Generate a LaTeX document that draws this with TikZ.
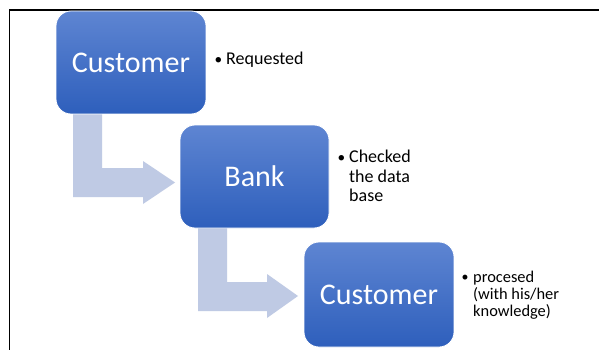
\documentclass[tikz,border=0pt]{standalone}
\usepackage{fontspec}
\setmainfont{Carlito}
\usetikzlibrary{calc}
\definecolor{boxtop}{HTML}{5E85D2}
\definecolor{boxbot}{HTML}{2E5FBC}
\definecolor{arrowfill}{HTML}{BFCAE4}
\tikzset{
  stepbox/.style={rounded corners=15pt, top color=boxtop, bottom color=boxbot,
    draw=white, line width=0.8pt, text=white, inner sep=0pt,
    font=\fontsize{30}{35}\selectfont},
  note/.style={anchor=base west, inner sep=0pt, text=black},
  bend/.style={fill=arrowfill, draw=none}
}
\newcommand{\bul}{\makebox[11.5pt][l]{\raisebox{0.5pt}{\scalebox{0.85}{•}}}}
\begin{document}
\begin{tikzpicture}[x=1pt,y=-1pt]
\useasboundingbox (0,0) rectangle (599,350);
\fill[white] (0,0) rectangle (599,350);
% frame
\draw[line width=1.5pt] (9.6,351) -- (9.6,10) -- (600,10);
% coordinates for the bent arrows
\coordinate (a1) at (73,114);
\coordinate (a2) at (198,228);
% bent arrows
\fill[arrowfill] (a1) -- ++(29,0) -- ++(0,54) -- ++(41,0) -- ++(0,-7) -- ++(32,21.5)
  -- ++(-32,21.5) -- ++(0,-7) -- ++(-70,0) -- cycle;
\fill[arrowfill] (a2) -- ++(29,0) -- ++(0,54) -- ++(40,0) -- ++(0,-8) -- ++(31,22)
  -- ++(-31,22) -- ++(0,-7) -- ++(-69,0) -- cycle;
% boxes
\node[stepbox, minimum width=150pt, minimum height=103pt] (c1) at (131,62.5) {Customer};
\node[stepbox, minimum width=149pt, minimum height=103pt] (b2) at (254.5,176.5) {Bank};
\node[stepbox, minimum width=150pt, minimum height=105pt] (c3) at (379,294.5) {Customer};
% notes
\node[note, font=\fontsize{18}{19.6}\selectfont] (t1) at (214.5,65)
  {\begin{tabular}[t]{@{}l@{}l@{}}\bul&Requested\end{tabular}};
\node[note, font=\fontsize{18}{19.6}\selectfont] (t2) at (337.5,162.5)
  {\begin{tabular}[t]{@{}l@{}l@{}}\bul&Checked\\&the data\\&base\end{tabular}};
\node[note, font=\fontsize{16.4}{16.8}\selectfont] (t3) at (461.5,282)
  {\begin{tabular}[t]{@{}l@{}l@{}}\bul&procesed\\&(with his/her\\&knowledge)\end{tabular}};
\end{tikzpicture}
\end{document}
